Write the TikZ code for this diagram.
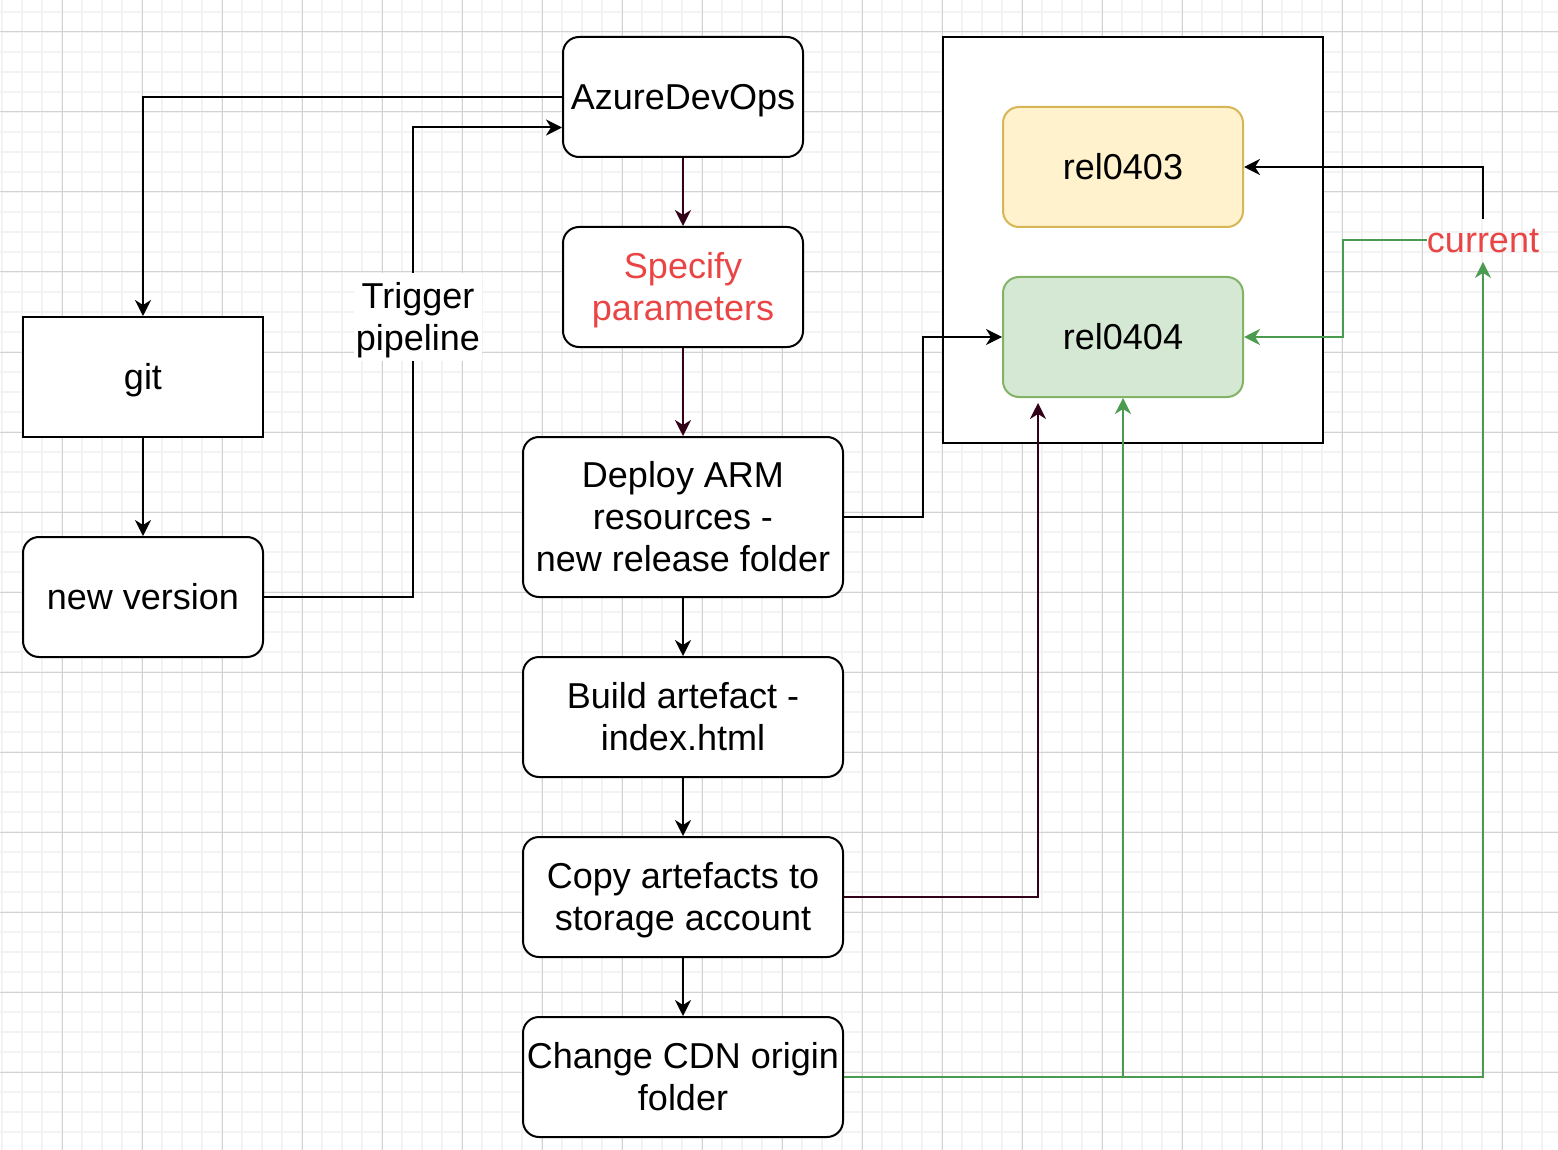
\documentclass[tikz,border=0pt]{standalone}
\usepackage{fontspec}
\setmainfont{Liberation Sans}
\usetikzlibrary{arrows.meta,calc}
\definecolor{maroon}{HTML}{33001A}
\definecolor{grn}{HTML}{4A9A50}
\definecolor{redt}{HTML}{EA4545}
\definecolor{minorg}{HTML}{F3F3F3}
\definecolor{majorg}{HTML}{D2D2D2}
\definecolor{yfill}{HTML}{FFF2CC}
\definecolor{ydraw}{HTML}{D6B656}
\definecolor{gfill}{HTML}{D5E8D4}
\definecolor{gdraw}{HTML}{82B366}
\newcommand\mystrut{\rule[-4.3pt]{0pt}{21pt}}
\begin{document}
\begin{tikzpicture}[x=0.5pt,y=-0.5pt,
  box/.style={draw=black,line width=1pt,fill=white,rounded corners=8pt,minimum width=120pt,minimum height=60pt,align=center,inner sep=0pt,font=\fontsize{18}{21}\selectfont,execute at end node=\mystrut},
  wide/.style={box,minimum width=160pt},
  conn/.style={line width=1pt,-{Stealth[length=8pt,width=8pt,inset=2.5pt]}},
  lbl/.style={align=center,inner sep=1pt,font=\fontsize{18}{21}\selectfont,execute at end node=\mystrut}
]
\useasboundingbox (0,0) rectangle (1558,1150);
\fill[white] (0,0) rectangle (1558,1150);
\foreach \x in {2,22,...,1542} \draw[minorg,line width=0.75pt] (\x,0) -- (\x,1150);
\foreach \y in {12,32,...,1132} \draw[minorg,line width=0.75pt] (0,\y) -- (1558,\y);
\foreach \x in {62,142,...,1502} \draw[majorg,line width=0.5pt] (\x,0) -- (\x,1150);
\foreach \y in {32,112,...,1072} \draw[majorg,line width=0.5pt] (0,\y) -- (1558,\y);

% container
\node[draw,line width=1pt,fill=white,minimum width=190pt,minimum height=203pt,inner sep=0pt] (cont) at (1133,240) {};

% nodes
\node[box] (azure) at (683,97) {\mystrut AzureDevOps};
\node[box,text=redt] (spec) at (683,287) {\mystrut Specify\\parameters};
\node[box,rounded corners=0pt] (git) at (143,377) {\mystrut git};
\node[box] (newv) at (143,597) {\mystrut new version};
\node[wide,minimum height=80pt] (deploy) at (683,517) {\mystrut Deploy ARM\\resources -\\new release folder};
\node[wide] (build) at (683,717) {\mystrut Build artefact -\\index.html};
\node[wide] (copy) at (683,897) {\mystrut Copy artefacts to\\storage account};
\node[wide] (cdn) at (683,1077) {\mystrut Change CDN origin\\folder};
\node[box,draw=ydraw,fill=yfill] (rel3) at (1123,167) {\mystrut rel0403};
\node[box,draw=gdraw,fill=gfill] (rel4) at (1123,337) {\mystrut rel0404};
\node[lbl,text=redt,inner sep=0pt] (cur) at (1483,240.5) {\mystrut current};

\coordinate (azin) at ($(azure.south west)!0.25!(azure.north west)$);
\coordinate (copyend) at (1038,403);

% connectors
\draw[conn] (azure.west) -| (git.north);
\draw[conn] (newv.east) -- (413,597) |- (azin);
\node[lbl,fill=white] (trig) at (418,317) {\mystrut Trigger\\pipeline};
\draw[conn,maroon] (azure.south) -- (spec.north);
\draw[conn,maroon] (spec.south) -- (deploy.north);
\draw[conn] (git.south) -- (newv.north);
\draw[conn] (deploy.east) -- (923,517) |- (rel4.west);
\draw[conn] (deploy.south) -- (build.north);
\draw[conn] (build.south) -- (copy.north);
\draw[conn] (copy.south) -- (cdn.north);
\draw[conn,maroon] (copy.east) -| (copyend);
\draw[conn,grn] (cdn.east) -| (rel4.south);
\draw[conn,grn] (cdn.east) -| (cur.south);
\draw[conn] (cur.north) |- (rel3.east);
\draw[conn,grn] (cur.west) -| (1343,337) -- (rel4.east);
\end{tikzpicture}
\end{document}
